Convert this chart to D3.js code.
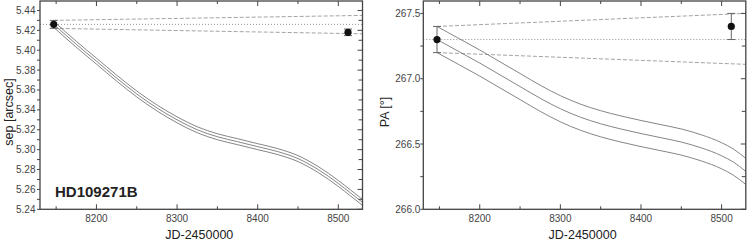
<!DOCTYPE html>
<html>
<head>
<meta charset="utf-8">
<script src="https://cdn.jsdelivr.net/npm/d3@7"></script>
<style>
  body { margin: 0; background: #fff; }
  svg { font-family: "Liberation Sans", Arial, sans-serif; }
</style>
</head>
<body>
<svg id="chart" width="747" height="243"></svg>
<script>
// observed epochs (JD-2450000)
var obsJD = [8147, 8512]
var obsSep = [5.426, 5.418]
var obsSepErr = [0.004, 0.0033]
var obsPA = [267.3, 267.4]
var obsPAErr = [0.1, 0.1]

// background track (middle line), sep in arcsec
var trackJD = [8147, 8175, 8200, 8225, 8250, 8275, 8300, 8325, 8350, 8375, 8400, 8425, 8450, 8475, 8500, 8515, 8530]
var trackSep = [5.426, 5.406, 5.389, 5.372, 5.356, 5.342, 5.330, 5.320, 5.313, 5.308, 5.303, 5.298, 5.291, 5.280, 5.266, 5.2565, 5.247]
var sepOffset = 0.003

// PA track (middle line), degrees
var trackJD2 = [8147, 8175, 8200, 8225, 8250, 8275, 8300, 8325, 8350, 8375, 8400, 8425, 8450, 8475, 8500, 8515, 8530]
var trackPA = [267.30, 267.205, 267.12, 267.03, 266.94, 266.85, 266.77, 266.705, 266.655, 266.615, 266.58, 266.548, 266.515, 266.47, 266.41, 266.36, 266.29]
var paOffset = 0.1

// stationary cone: values at first epoch and at right edge
var coneSep = { upper: [5.430, 5.435], lower: [5.422, 5.4165] }
var conePA = { upper: [267.4, 267.5], lower: [267.2, 267.11] }

var xTicks = [8200, 8300, 8400, 8500]
var sepTicks = [5.24, 5.26, 5.28, 5.30, 5.32, 5.34, 5.36, 5.38, 5.40, 5.42, 5.44]
var paTicks = [266.0, 266.5, 267.0, 267.5]

var svg = d3.select("#chart")

function drawPanel(opt) {
  var g = svg.append("g")
  var x = d3.scaleLinear().domain([8130, 8530]).range([opt.left, opt.left + 322.5])
  var y = d3.scaleLinear().domain(opt.ydomain).range([209.3, 1])
  var x0 = x.range()[0], x1 = x.range()[1]
  var y0 = y.range()[0], y1 = y.range()[1]

  var clipId = "clip" + Math.round(opt.left)
  svg.append("clipPath").attr("id", clipId)
    .append("rect").attr("x", x0).attr("y", y1).attr("width", x1 - x0).attr("height", y0 - y1)
  var plot = g.append("g").attr("clip-path", "url(#" + clipId + ")")

  // dotted line at first measurement
  plot.append("line")
    .attr("x1", x0).attr("x2", x1)
    .attr("y1", y(opt.obs[0])).attr("y2", y(opt.obs[0]))
    .attr("stroke", "#888").attr("stroke-width", 0.9).attr("stroke-dasharray", "1,2")

  // dashed cone
  ;["upper", "lower"].forEach(function(k) {
    plot.append("line")
      .attr("x1", x(obsJD[0])).attr("x2", x1)
      .attr("y1", y(opt.cone[k][0])).attr("y2", y(opt.cone[k][1]))
      .attr("stroke", "#999").attr("stroke-width", 0.9).attr("stroke-dasharray", "4,2")
  })

  // three track lines
  var line = d3.line().curve(d3.curveMonotoneX)
  ;[-opt.offset, 0, opt.offset].forEach(function(off) {
    var pts = opt.trackX.map(function(d, i) { return [x(d), y(opt.trackY[i] + off)] })
    plot.append("path")
      .attr("d", line(pts))
      .attr("fill", "none").attr("stroke", "#777").attr("stroke-width", 0.9)
  })

  // error bars and points
  obsJD.forEach(function(d, i) {
    var cx = x(d)
    var top = y(opt.obs[i] + opt.err[i]), bot = y(opt.obs[i] - opt.err[i])
    g.append("line").attr("x1", cx).attr("x2", cx).attr("y1", top).attr("y2", bot)
      .attr("stroke", "#666").attr("stroke-width", 1)
    ;[top, bot].forEach(function(yy) {
      g.append("line").attr("x1", cx - 4).attr("x2", cx + 4).attr("y1", yy).attr("y2", yy)
        .attr("stroke", "#666").attr("stroke-width", 1)
    })
    g.append("circle").attr("cx", cx).attr("cy", y(opt.obs[i])).attr("r", 3.6).attr("fill", "#111")
  })

  // frame
  g.append("rect").attr("x", x0).attr("y", y1).attr("width", x1 - x0).attr("height", y0 - y1)
    .attr("fill", "none").attr("stroke", "#444").attr("stroke-width", 1.3)

  // x ticks: bottom and top, inward
  d3.range(8150, 8531, 50).forEach(function(t) {
    var len = xTicks.indexOf(t) >= 0 ? 5 : 3
    g.append("line").attr("x1", x(t)).attr("x2", x(t)).attr("y1", y0).attr("y2", y0 - len)
      .attr("stroke", "#444").attr("stroke-width", 1)
    g.append("line").attr("x1", x(t)).attr("x2", x(t)).attr("y1", y1).attr("y2", y1 + len)
      .attr("stroke", "#444").attr("stroke-width", 1)
  })
  xTicks.forEach(function(t) {
    g.append("text").attr("x", x(t)).attr("y", 222).attr("text-anchor", "middle")
      .attr("font-size", 10).attr("fill", "#444").text(t)
  })

  // y ticks: left outward, right inward
  opt.yMinor.forEach(function(t) {
    var major = opt.yTicks.some(function(m) { return Math.abs(m - t) < 1e-6 })
    var len = major ? 4 : 3
    g.append("line").attr("x1", x0).attr("x2", x0 - 3).attr("y1", y(t)).attr("y2", y(t))
      .attr("stroke", "#444").attr("stroke-width", 1)
    g.append("line").attr("x1", x1).attr("x2", x1 - len - 1).attr("y1", y(t)).attr("y2", y(t))
      .attr("stroke", "#444").attr("stroke-width", 1)
  })
  opt.yTicks.forEach(function(t) {
    g.append("text").attr("x", x0 - opt.labelGap).attr("y", y(t) + 3.5).attr("text-anchor", "end")
      .attr("font-size", 10).attr("fill", "#444").text(opt.fmt(t))
  })

  // axis titles
  g.append("text").attr("x", (x0 + x1) / 2 - 2).attr("y", 239).attr("text-anchor", "middle")
    .attr("font-size", 12.5).attr("fill", "#222").text("JD-2450000")
  g.append("text")
    .attr("transform", "translate(" + opt.titleX + ",112) rotate(-90)")
    .attr("text-anchor", "middle").attr("font-size", 12.5).attr("fill", "#222").text(opt.ytitle)
}

drawPanel({
  left: 40, ydomain: [5.24, 5.4495],
  obs: obsSep, err: obsSepErr, cone: coneSep,
  trackX: trackJD, trackY: trackSep, offset: sepOffset,
  yTicks: sepTicks, yMinor: d3.range(0, 21).map(function(i) { return 5.24 + i * 0.01 }),
  fmt: d3.format(".2f"), labelGap: 4.5, ytitle: "sep [arcsec]", titleX: 13
})

drawPanel({
  left: 423.3, ydomain: [266, 267.595],
  obs: obsPA, err: obsPAErr, cone: conePA,
  trackX: trackJD2, trackY: trackPA, offset: paOffset,
  yTicks: paTicks, yMinor: d3.range(0, 7).map(function(i) { return 266 + i * 0.25 }),
  fmt: d3.format(".1f"), labelGap: 3, ytitle: "PA [°]", titleX: 389
})

svg.append("text").attr("x", 55).attr("y", 197).attr("font-size", 15)
  .attr("font-weight", "bold").attr("fill", "#222").text("HD109271B")
</script>
</body>
</html>
